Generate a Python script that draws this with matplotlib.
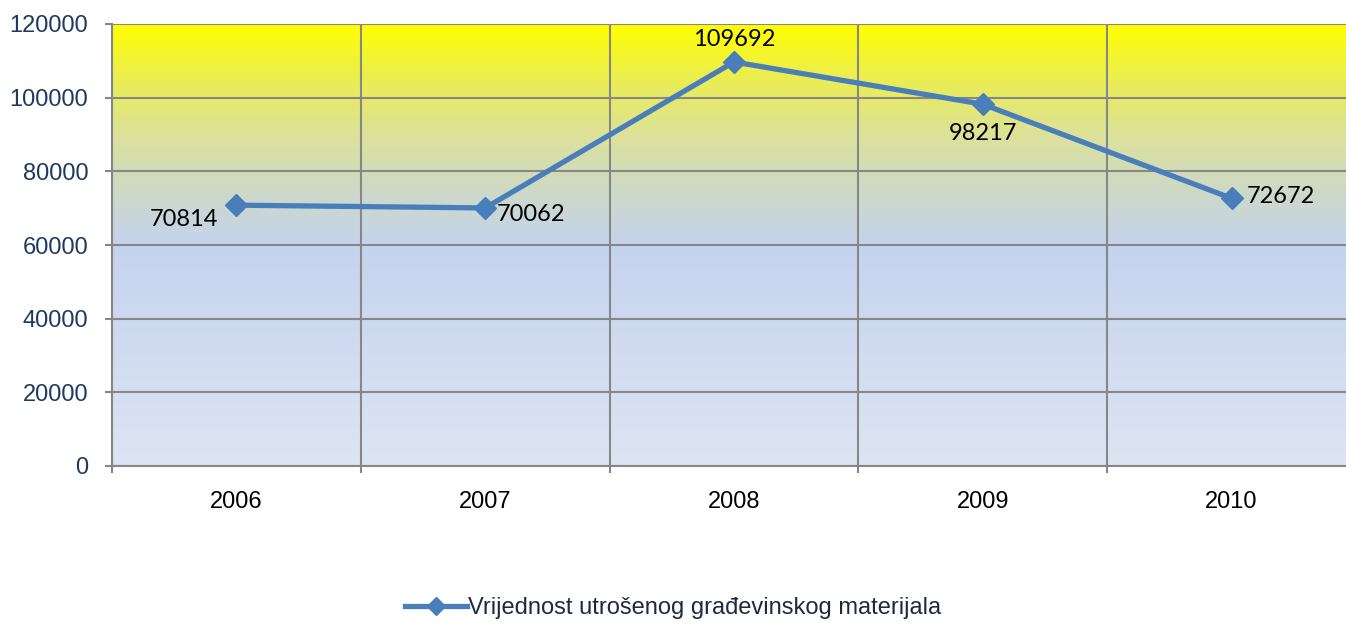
import numpy as np
import matplotlib.pyplot as plt
from matplotlib.colors import LinearSegmentedColormap

years = ["2006", "2007", "2008", "2009", "2010"]
values = [70814, 70062, 109692, 98217, 72672]
series_name = "Vrijednost utrošenog građevinskog materijala"

fig = plt.figure(figsize=(13.46, 6.24), dpi=100)
ax = fig.add_axes([112 / 1346, 1 - 466 / 624, 1244 / 1346, 442 / 624])

x = np.arange(len(years))
ax.set_xlim(-0.5, len(years) - 0.5)
ax.set_ylim(0, 120000)

# gradient background: yellow at top, blue in the lower half
cmap = LinearSegmentedColormap.from_list(
    "bg", [(0.0, "#dde5f3"), (0.5, "#c5d3ee"), (0.62, "#cdd9c8"),
           (0.75, "#dce29a"), (0.88, "#ebee50"), (1.0, "#ffff00")])
grad = np.linspace(0, 1, 256).reshape(-1, 1)
ax.imshow(grad, extent=[-0.5, len(years) - 0.5, 0, 120000], origin="lower",
          aspect="auto", cmap=cmap, zorder=0)

# grid
ax.set_yticks(np.arange(0, 120001, 20000))
ax.set_xticks(np.arange(-0.5, len(years), 1.0))
ax.set_xticklabels([])
ax.set_xticks(x, minor=True)
ax.set_xticklabels(years, minor=True)
ax.grid(True, color="#878787", linewidth=1.5, zorder=1)
ax.set_axisbelow(False)

for s in ["top", "right"]:
    ax.spines[s].set_visible(False)
for s in ["left", "bottom"]:
    ax.spines[s].set_color("#878787")
    ax.spines[s].set_linewidth(1.5)

ax.tick_params(axis="y", which="major", length=5, width=1.5, color="#878787",
               labelsize=17, labelcolor="#1f3a60", pad=12)
ax.tick_params(axis="x", which="major", length=5, width=1.5, color="#878787")
ax.tick_params(axis="x", which="minor", length=0, labelsize=17,
               labelcolor="black", pad=18)
for lab in ax.get_yticklabels() + ax.get_xticklabels(minor=True):
    lab.set_fontfamily("Liberation Sans")

line, = ax.plot(x, values, color="#4a7ebb", linewidth=3.8, marker="D",
                markersize=11, zorder=3, label=series_name, clip_on=False)

# data labels
offsets = [(-38, -10, "center"), (8, -5, "left"), (0, 16, "center"),
           (0, -21, "center"), (11, 1, "left")]
for xi, v, (dx, dy, ha) in zip(x, values, offsets):
    ax.annotate(str(v), (xi, v), xytext=(dx, dy), textcoords="offset points",
                ha=ha, va="center", fontsize=17, fontfamily="Lato",
                color="black", zorder=4)

leg = fig.legend(handles=[line], loc="center", bbox_to_anchor=(0.5, 1 - 608 / 624),
                 frameon=False, handlelength=2.6, handletextpad=0.05,
                 prop={"family": "Liberation Sans", "size": 17})
leg.get_lines()[0].set_markersize(9)
for t in leg.get_texts():
    t.set_color("#1f2a40")

fig.savefig("out.png", dpi=100)
